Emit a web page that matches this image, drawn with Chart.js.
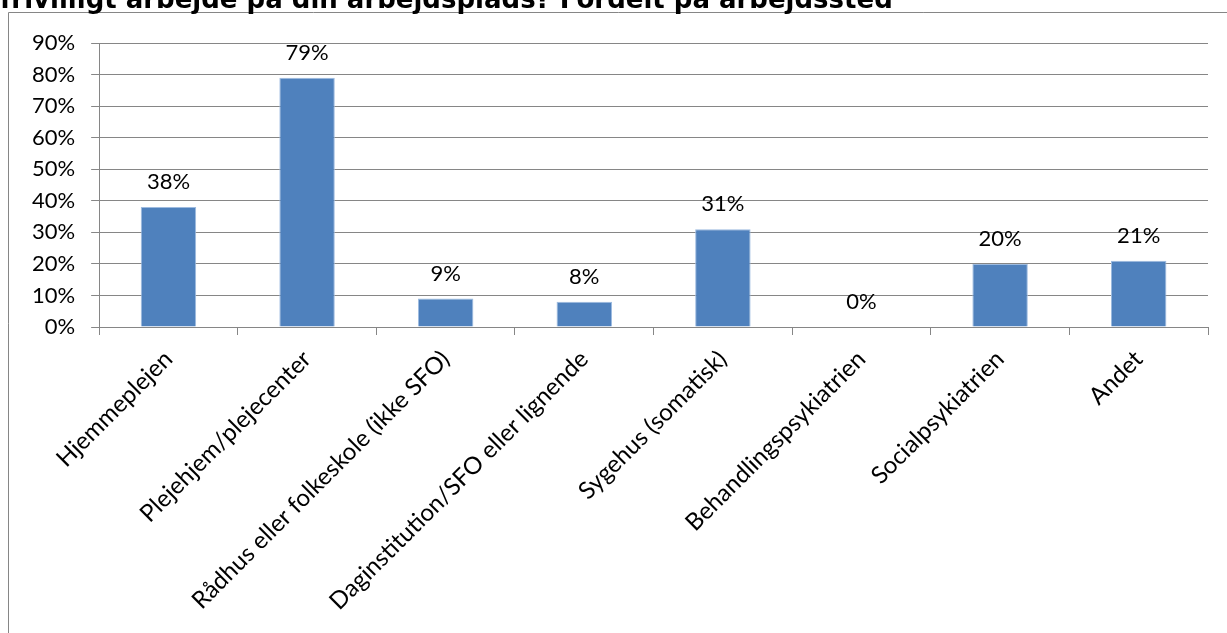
<!DOCTYPE html>
<html>
<head>
<meta charset="utf-8">
<script src="https://cdn.jsdelivr.net/npm/chart.js@4"></script>
<style>
  body { margin: 0; background: #ffffff; }
  #boks { width: 1227px; height: 633px; position: relative; }
</style>
</head>
<body>
<div id="boks">
  <canvas id="myChart"></canvas>
</div>
<script>
    // ----------- DATA ------------
    var arbejdssteder = ['Hjemmeplejen', 'Plejehjem/plejecenter', 'Rådhus eller folkeskole (ikke SFO)',
        'Daginstitution/SFO eller lignende', 'Sygehus (somatisk)', 'Behandlingspsykiatrien',
        'Socialpsykiatrien', 'Andet'];
    var andele = [38, 79, 9, 8, 31, 0, 20, 21];
    var yTicks = [0, 10, 20, 30, 40, 50, 60, 70, 80, 90];
    var titel = 'frivilligt arbejde på din arbejdsplads? Fordelt på arbejdssted';

    var graa = '#868686';
    var blaa = '#4f81bd';
    var skrift = 'Lato, "Open Sans", sans-serif';

    const data = {
        labels: arbejdssteder,
        datasets: [{
            label: 'Andel',
            data: andele,
            backgroundColor: blaa,
            borderColor: '#9dbbe0',
            borderWidth: 1,
            categoryPercentage: 1.0,
            barPercentage: 0.4
        }]
    };

    // ramme og (afskaaret) titel
    const rammeTitel = {
        id: 'rammeTitel',
        afterDraw(chart) {
            const ctx = chart.ctx;
            ctx.save();
            ctx.strokeStyle = graa;
            ctx.lineWidth = 1;
            ctx.beginPath();
            ctx.moveTo(8.5, 700);
            ctx.lineTo(8.5, 12.5);
            ctx.lineTo(1240, 12.5);
            ctx.stroke();
            ctx.fillStyle = '#000000';
            ctx.font = 'bold 26px "DejaVu Sans", Verdana, sans-serif';
            ctx.textAlign = 'left';
            ctx.textBaseline = 'alphabetic';
            ctx.fillText(titel, 0, 8);
            ctx.restore();
        }
    };

    // vaerdier over soejlerne
    const vaerdiEtiketter = {
        id: 'vaerdiEtiketter',
        afterDatasetsDraw(chart) {
            const ctx = chart.ctx;
            const meta = chart.getDatasetMeta(0);
            ctx.save();
            ctx.fillStyle = '#000000';
            ctx.font = '22px ' + skrift;
            ctx.textAlign = 'center';
            ctx.textBaseline = 'alphabetic';
            meta.data.forEach((bar, i) => {
                ctx.fillText(andele[i] + '%', bar.x, bar.y - 18);
            });
            ctx.restore();
        }
    };

    const config = {
        type: 'bar',
        data,
        options: {
            responsive: true,
            maintainAspectRatio: false,
            animation: false,
            layout: {
                padding: { left: 16, right: 19, top: 43, bottom: 22 }
            },
            scales: {
                y: {
                    min: 0,
                    max: 90,
                    afterBuildTicks: (axis) => { axis.ticks = yTicks.map(v => ({ value: v })); },
                    ticks: {
                        color: '#000000',
                        padding: 16,
                        font: { family: skrift, size: 22 },
                        callback: (v) => v + '%'
                    },
                    grid: {
                        color: graa,
                        lineWidth: 1,
                        tickLength: 8
                    },
                    border: { color: graa, width: 1 }
                },
                x: {
                    ticks: {
                        color: '#000000',
                        padding: 10,
                        minRotation: 45,
                        maxRotation: 45,
                        autoSkip: false,
                        font: { family: skrift, size: 24 }
                    },
                    grid: {
                        offset: true,
                        drawOnChartArea: false,
                        color: graa,
                        tickLength: 8
                    },
                    border: { color: graa, width: 1 }
                }
            },
            plugins: {
                legend: { display: false },
                tooltip: { enabled: false }
            }
        },
        plugins: [vaerdiEtiketter, rammeTitel]
    };

    const myChart = new Chart(
        document.getElementById('myChart').getContext('2d'),
        config
    );
</script>
</body>
</html>
